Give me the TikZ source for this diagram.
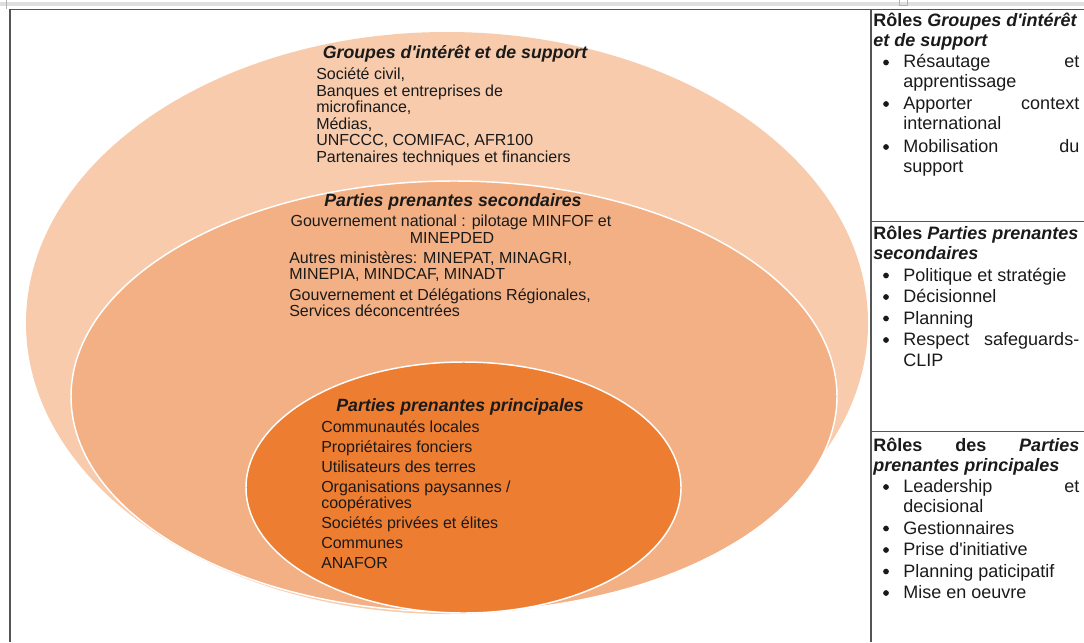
\documentclass[tikz,border=0pt]{standalone}
\usepackage{fontspec}
\setmainfont{Liberation Sans}[Ligatures=TeXOff]
\definecolor{ringA}{HTML}{F7CBAC}
\definecolor{ringB}{HTML}{F3B084}
\definecolor{ringC}{HTML}{ED7D31}
\definecolor{frame}{HTML}{555555}
\definecolor{txt}{HTML}{1A1A1A}
\newcommand{\jst}[3]{\hbox to #1{#2\hfill #3}}
\tikzset{
  ring/.style={draw=white, line width=1.1pt},
  body/.style={inner sep=0pt, anchor=base west, text=txt, font=\fontsize{12}{14}\selectfont},
  bodyc/.style={inner sep=0pt, anchor=base, text=txt, font=\fontsize{12}{14}\selectfont},
  ttl/.style={inner sep=0pt, anchor=base, text=txt, font=\fontsize{13.3}{15}\selectfont\bfseries\itshape},
  rtxt/.style={inner sep=0pt, anchor=base west, text=txt, font=\fontsize{13.5}{16}\selectfont},
  rhead/.style={inner sep=0pt, anchor=base west, text=txt, font=\fontsize{13.5}{16}\selectfont\bfseries},
  bul/.style={circle, inner sep=0pt, minimum size=4.3pt, fill=txt},
  rule/.style={draw=frame, line width=1.1pt}
}
\begin{document}
\begin{tikzpicture}[x=0.75pt,y=-0.75pt]
\useasboundingbox (0,0) rectangle (1084,642);
% top gray band
\fill[gray!25] (0,2.5) rectangle (1084,6);
\draw[gray!60, line width=0.6pt] (6,0) -- (6,9);
\draw[gray!60, line width=0.6pt] (899,0) -- (899,5) -- (907,5) -- (907,0);
% frame
\draw[rule] (10,642) -- (10,9.5) -- (1084,9.5);
\draw[rule] (871,9.5) -- (871,642);
\draw[rule] (871,221.7) -- (1084,221.7);
\draw[rule] (871,431.7) -- (1084,431.7);
% ellipses
\fill[ringA] (447,323) ellipse [x radius=421, y radius=291];
\draw[ring, fill=ringB] (454,396.5) ellipse [x radius=383, y radius=215.5];
\draw[ring, fill=ringC] (463.5,487.5) ellipse [x radius=217.5, y radius=125.5];
% outer group
\node[ttl] (tA) at (455,59) {Groupes d'intérêt et de support};
\node[body] (a1) at (316,79.5) {Société civil,};
\node[body] (a2) at (316,96.5) {Banques et entreprises de};
\node[body] (a3) at (316,112.5) {microfinance,};
\node[body] (a4) at (316,129.5) {Médias,};
\node[body] (a5) at (316,145.5) {UNFCCC, COMIFAC, AFR100};
\node[body] (a6) at (316,162.5) {Partenaires techniques et financiers};
% secondary group
\node[ttl] (tB) at (453,206) {Parties prenantes secondaires};
\node[bodyc] (b1) at (451,226.5) {Gouvernement national : pilotage MINFOF et};
\node[bodyc] (b2) at (452,243) {MINEPDED};
\node[body] (b3) at (289,263) {Autres ministères: MINEPAT, MINAGRI,};
\node[body] (b4) at (289,279.5) {MINEPIA, MINDCAF, MINADT};
\node[body] (b5) at (289,300) {Gouvernement et Délégations Régionales,};
\node[body] (b6) at (289,316) {Services déconcentrées};
% principal group
\node[ttl] (tC) at (460,411.5) {Parties prenantes principales};
\node[body] (c1) at (321,432) {Communautés locales};
\node[body] (c2) at (321,452) {Propriétaires fonciers};
\node[body] (c3) at (321,472) {Utilisateurs des terres};
\node[body] (c4) at (321,492) {Organisations paysannes /};
\node[body] (c5) at (321,508.5) {coopératives};
\node[body] (c6) at (321,528.5) {Sociétés privées et élites};
\node[body] (c7) at (321,548.5) {Communes};
\node[body] (c8) at (321,568.5) {ANAFOR};
% right column: box 1
\node[rhead] (r1h1) at (873,27) {Rôles \textit{Groupes d'intérêt}};
\node[rhead] (r1h2) at (873,47) {\textit{et de support}};
\node[bul] (r1b1) at (886,62.5) {};
\node[rtxt] (r1t1) at (903,68) {\jst{132pt}{Résautage}{et}};
\node[rtxt] (r1t2) at (903,88) {apprentissage};
\node[bul] (r1b2) at (886,104) {};
\node[rtxt] (r1t3) at (903,109.5) {\jst{132pt}{Apporter}{context}};
\node[rtxt] (r1t4) at (903,129.5) {international};
\node[bul] (r1b3) at (886,147) {};
\node[rtxt] (r1t5) at (903,152.5) {\jst{132pt}{Mobilisation}{du}};
\node[rtxt] (r1t6) at (903,172.5) {support};
% right column: box 2
\node[rhead] (r2h1) at (873,239) {Rôles \textit{Parties prenantes}};
\node[rhead] (r2h2) at (873,259) {\textit{secondaires}};
\node[bul] (r2b1) at (886,275.5) {};
\node[rtxt] (r2t1) at (903,281) {Politique et stratégie};
\node[bul] (r2b2) at (886,297) {};
\node[rtxt] (r2t2) at (903,302.5) {Décisionnel};
\node[bul] (r2b3) at (886,318.5) {};
\node[rtxt] (r2t3) at (903,324) {Planning};
\node[bul] (r2b4) at (886,340) {};
\node[rtxt] (r2t4) at (903,345.5) {\jst{132pt}{Respect}{safeguards-}};
\node[rtxt] (r2t5) at (903,366) {CLIP};
% right column: box 3
\node[rhead] (r3h1) at (873,451) {\jst{154.5pt}{Rôles\hfill des}{\textit{Parties}}};
\node[rhead] (r3h2) at (873,471) {\textit{prenantes principales}};
\node[bul] (r3b1) at (886,487) {};
\node[rtxt] (r3t1) at (903,492.5) {\jst{132pt}{Leadership}{et}};
\node[rtxt] (r3t2) at (903,512.5) {decisional};
\node[bul] (r3b2) at (886,528.5) {};
\node[rtxt] (r3t3) at (903,534) {Gestionnaires};
\node[bul] (r3b3) at (886,550) {};
\node[rtxt] (r3t4) at (903,555.5) {Prise d'initiative};
\node[bul] (r3b4) at (886,571.5) {};
\node[rtxt] (r3t5) at (903,577) {Planning paticipatif};
\node[bul] (r3b5) at (886,593) {};
\node[rtxt] (r3t6) at (903,598.5) {Mise en oeuvre};
\end{tikzpicture}
\end{document}
